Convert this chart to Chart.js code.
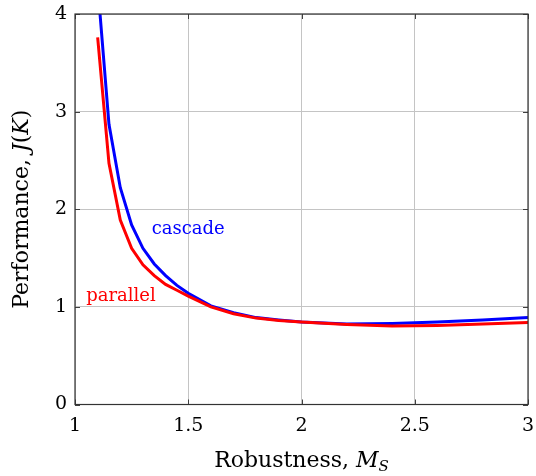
<!DOCTYPE html>
<html>
<head>
<meta charset="utf-8">
<script src="https://cdn.jsdelivr.net/npm/chart.js@4"></script>
<style>
html,body{margin:0;padding:0;background:#fff;}
#wrap{width:536px;height:476px;}
</style>
</head>
<body>
<div id="wrap"><canvas id="c" width="536" height="476"></canvas></div>
<script>
// ---- data ----
const msValues = [1.10, 1.15, 1.20, 1.25, 1.30, 1.35, 1.40, 1.45, 1.50, 1.60, 1.70, 1.80, 1.90, 2.00, 2.20, 2.40, 2.60, 2.80, 3.00];
const parallelJ = [3.76, 2.47, 1.89, 1.60, 1.43, 1.32, 1.23, 1.17, 1.11, 1.00, 0.93, 0.885, 0.86, 0.845, 0.82, 0.805, 0.81, 0.825, 0.84];
const cascadeJ  = [4.30, 2.87, 2.22, 1.84, 1.60, 1.44, 1.32, 1.22, 1.14, 1.01, 0.94, 0.89, 0.865, 0.845, 0.825, 0.83, 0.845, 0.865, 0.89];
const xTicks = [1, 1.5, 2, 2.5, 3];
const yTicks = [0, 1, 2, 3, 4];
const seriesNames = ["parallel", "cascade"];
const labelPos = { parallel: [1.203, 1.11], cascade: [1.50, 1.79] };

const pts = (xs, ys) => xs.map((x, i) => ({ x: x, y: ys[i] }));
const FONT = '"DejaVu Serif", "Liberation Serif", serif';

const framePlugin = {
  id: 'frame',
  afterDatasetsDraw(chart) {
    const { ctx, chartArea: a, scales } = chart;
    ctx.save();
    ctx.strokeStyle = '#404040';
    ctx.lineWidth = 1;
    const L = 5;
    xTicks.forEach(v => {
      const px = Math.round(scales.x.getPixelForValue(v)) + 0.5;
      ctx.beginPath();
      ctx.moveTo(px, a.bottom); ctx.lineTo(px, a.bottom - L);
      ctx.moveTo(px, a.top); ctx.lineTo(px, a.top + L);
      ctx.stroke();
    });
    yTicks.forEach(v => {
      const py = Math.round(scales.y.getPixelForValue(v)) + 0.5;
      ctx.beginPath();
      ctx.moveTo(a.left, py); ctx.lineTo(a.left + L, py);
      ctx.moveTo(a.right, py); ctx.lineTo(a.right - L, py);
      ctx.stroke();
    });
    ctx.strokeStyle = '#333333';
    ctx.lineWidth = 1.2;
    ctx.strokeRect(a.left, a.top, a.right - a.left, a.bottom - a.top);
    ctx.font = '18px ' + FONT;
    ctx.textAlign = 'center';
    ctx.textBaseline = 'middle';
    ctx.fillStyle = '#0000ff';
    ctx.fillText(seriesNames[1], scales.x.getPixelForValue(labelPos.cascade[0]), scales.y.getPixelForValue(labelPos.cascade[1]));
    ctx.fillStyle = '#ff0000';
    ctx.fillText(seriesNames[0], scales.x.getPixelForValue(labelPos.parallel[0]), scales.y.getPixelForValue(labelPos.parallel[1]));
    ctx.restore();
  },
  afterDraw(chart) {
    const { ctx, chartArea: a } = chart;
    ctx.save();
    ctx.fillStyle = '#000';
    ctx.textBaseline = 'alphabetic';
    const SZ = 22, SUB = 15;
    const part1 = 'Robustness, ';
    ctx.font = SZ + 'px ' + FONT;
    const w1 = ctx.measureText(part1).width;
    ctx.font = 'italic ' + SZ + 'px ' + FONT;
    const w2 = ctx.measureText('M').width;
    ctx.font = 'italic ' + SUB + 'px ' + FONT;
    const w3 = ctx.measureText('S').width;
    const total = w1 + w2 + w3;
    const cx = (a.left + a.right) / 2;
    let x0 = cx - total / 2;
    const by = 467;
    ctx.textAlign = 'left';
    ctx.font = SZ + 'px ' + FONT;
    ctx.fillText(part1, x0, by);
    ctx.font = 'italic ' + SZ + 'px ' + FONT;
    ctx.fillText('M', x0 + w1, by);
    ctx.font = 'italic ' + SUB + 'px ' + FONT;
    ctx.fillText('S', x0 + w1 + w2, by + 4);
    ctx.translate(28, (a.top + a.bottom) / 2);
    ctx.rotate(-Math.PI / 2);
    const parts = [['Performance, ', ''], ['J', 'italic '], ['(', ''], ['K', 'italic '], [')', '']];
    const widths = parts.map(p => { ctx.font = p[1] + SZ + 'px ' + FONT; return ctx.measureText(p[0]).width; });
    let s = -widths.reduce((u, v) => u + v, 0) / 2;
    parts.forEach((p, i) => { ctx.font = p[1] + SZ + 'px ' + FONT; ctx.fillText(p[0], s, 0); s += widths[i]; });
    ctx.restore();
  }
};

new Chart(document.getElementById('c'), {
  type: 'scatter',
  data: {
    datasets: [
      { label: seriesNames[0], data: pts(msValues, parallelJ), showLine: true, borderColor: '#ff0000', borderWidth: 3, pointRadius: 0, fill: false, tension: 0, clip: 0 },
      { label: seriesNames[1], data: pts(msValues, cascadeJ), showLine: true, borderColor: '#0000ff', borderWidth: 3, pointRadius: 0, fill: false, tension: 0, clip: 0 }
    ]
  },
  options: {
    responsive: false,
    animation: false,
    devicePixelRatio: 1,
    layout: { padding: { top: 14, right: 8, left: 0, bottom: 0 } },
    plugins: { legend: { display: false }, tooltip: { enabled: false } },
    scales: {
      x: {
        type: 'linear', min: 1, max: 3,
        afterBuildTicks: s => { s.ticks = xTicks.map(v => ({ value: v })); },
        afterFit: s => { s.height = 71.5; s.paddingLeft = 0; s.paddingRight = 0; },
        grid: { color: '#c4c4c4', lineWidth: 1, drawTicks: false },
        border: { display: false },
        ticks: { color: '#000', font: { family: FONT, size: 19 }, padding: 10, maxRotation: 0, callback: v => String(v) }
      },
      y: {
        type: 'linear', min: 0, max: 4,
        afterBuildTicks: s => { s.ticks = yTicks.map(v => ({ value: v })); },
        afterFit: s => { s.width = 75; s.paddingTop = 0; s.paddingBottom = 0; },
        grid: { color: '#c4c4c4', lineWidth: 1, drawTicks: false },
        border: { display: false },
        ticks: { color: '#000', font: { family: FONT, size: 19 }, padding: 8, callback: v => String(v) }
      }
    }
  },
  plugins: [framePlugin]
});
</script>
</body>
</html>
